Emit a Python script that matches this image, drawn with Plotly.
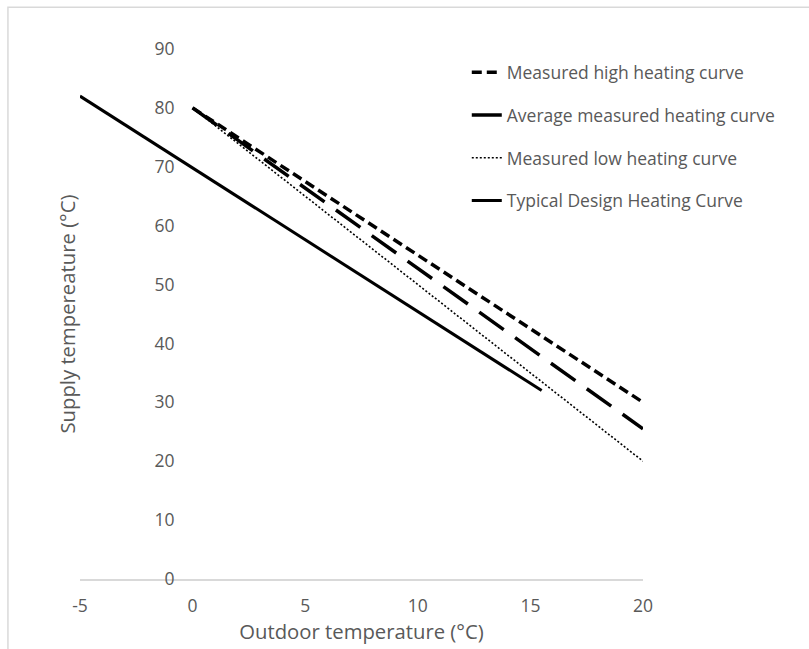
import plotly.graph_objects as go

# Heating curves: supply temperature vs outdoor temperature
high_x = [0, 20]
high_y = [80, 30]
avg_x = [0, 20]
avg_y = [80, 25.5]
low_x = [0, 20]
low_y = [80, 20]
design_x = [-5, 15.5]
design_y = [82, 32]

x_ticks = [-5, 0, 5, 10, 15, 20]
x_tick_text = ["-5", "0", "5", "10", "15", "20"]
y_ticks = [0, 10, 20, 30, 40, 50, 60, 70, 80, 90]

FONT = "Open Sans"
GREY = "#595959"
TICK_SIZE = 17.5
TITLE_SIZE = 20.3

fig = go.Figure()
fig.add_trace(go.Scatter(x=high_x, y=high_y, mode="lines", name="Measured high heating curve",
                         legendgroup="a",
                         line=dict(color="black", width=3.5, dash="10px,5px")))
fig.add_trace(go.Scatter(x=avg_x, y=avg_y, mode="lines", name="Average measured heating curve",
                         legendgroup="b",
                         line=dict(color="black", width=3.5, dash="30px,14px")))
fig.add_trace(go.Scatter(x=low_x, y=low_y, mode="lines", name="Measured low heating curve",
                         legendgroup="c",
                         line=dict(color="black", width=1.6, dash="2px,2px")))
fig.add_trace(go.Scatter(x=design_x, y=design_y, mode="lines", name="Typical Design Heating Curve",
                         legendgroup="d",
                         line=dict(color="black", width=3)))

fig.update_layout(
    width=809, height=649,
    margin=dict(l=80, r=166, t=49, b=66),
    plot_bgcolor="white", paper_bgcolor="white",
    font=dict(family=FONT, color=GREY, size=TICK_SIZE),
    showlegend=True,
    legend=dict(x=0.687, y=0.99, xanchor="left", yanchor="top",
                tracegroupgap=17, font=dict(size=TICK_SIZE, color=GREY),
                bgcolor="rgba(0,0,0,0)"),
    xaxis=dict(range=[-5, 20], tickvals=x_ticks, ticktext=x_tick_text,
               showgrid=False, zeroline=False,
               showline=True, linecolor="#d9d9d9", linewidth=1.5,
               ticks="outside", ticklen=10, tickcolor="rgba(0,0,0,0)",
               tickfont=dict(size=TICK_SIZE, color=GREY),
               title=dict(text="Outdoor temperature (°C)", font=dict(size=TITLE_SIZE, color=GREY), standoff=6)),
    yaxis=dict(range=[0, 90], tickvals=y_ticks, showgrid=False, zeroline=False,
               showline=False, anchor="free", position=0.168,
               tickfont=dict(size=TICK_SIZE, color=GREY),
               title=dict(text="Supply tempereature (°C)", font=dict(size=TITLE_SIZE, color=GREY), standoff=72)),
    shapes=[dict(type="rect", xref="paper", yref="paper",
                 x0=-0.128, x1=1.5, y0=-0.5, y1=1.079,
                 line=dict(color="#d9d9d9", width=1.5), fillcolor="rgba(0,0,0,0)", layer="below")],
)

fig.write_html("out.html")
